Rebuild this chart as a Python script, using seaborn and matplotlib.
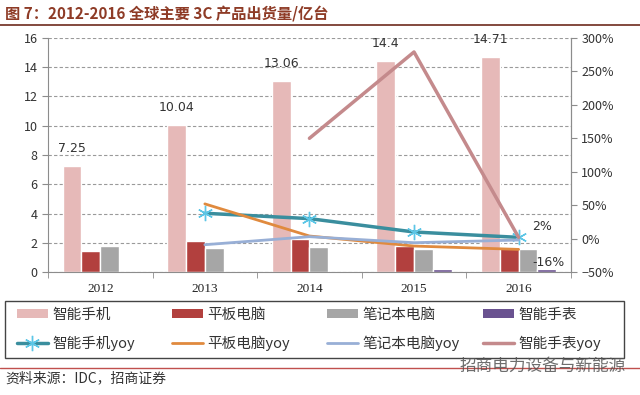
import numpy as np
import pandas as pd
import matplotlib
matplotlib.use("Agg")
import matplotlib.pyplot as plt
import seaborn as sns
from matplotlib.patches import Patch, Rectangle
from matplotlib.lines import Line2D
from matplotlib.ticker import PercentFormatter

sns.set_style("white")
plt.rcParams['font.family'] = ['Noto Sans CJK SC', 'DejaVu Sans']

# data
years = ["2012", "2013", "2014", "2015", "2016"]
smartphone = [7.25, 10.04, 13.06, 14.4, 14.71]
tablet = [1.44, 2.16, 2.25, 1.80, 1.72]
notebook = [1.82, 1.66, 1.72, 1.57, 1.57]
watch = [np.nan, np.nan, 0.03, 0.20, 0.21]

phone_yoy = [np.nan, 38, 30, 10, 2]
tablet_yoy = [np.nan, 52, 4, -11, -16]
notebook_yoy = [np.nan, -9, 3, -6, -2]
watch_yoy = [np.nan, np.nan, 150, 279, 2]

bar_names = ["智能手机", "平板电脑", "笔记本电脑", "智能手表"]
bar_colors = ["#E6B9B8", "#B2403E", "#A6A6A6", "#6A5290"]
line_names = ["智能手机yoy", "平板电脑yoy", "笔记本电脑yoy", "智能手表yoy"]
line_colors = ["#3A8E9E", "#E08A3E", "#98AFD6", "#C48A8C"]

df = pd.DataFrame({
    "year": years * 4,
    "product": [n for n in bar_names for _ in years],
    "value": smartphone + tablet + notebook + watch,
})

W, H = 640, 395
fig = plt.figure(figsize=(6.4, 3.95), dpi=100)
ax = fig.add_axes([0.075, 0.311, 0.817, 0.593])

sns.barplot(data=df, x="year", y="value", hue="product", hue_order=bar_names,
            palette=bar_colors, width=0.72, gap=0, ax=ax, legend=False,
            errorbar=None, saturation=1)

ax.set_ylim(0, 16)
ax.set_yticks(range(0, 17, 2))
ax.set_xlim(-0.5, 4.5)
ax.set_xlabel("")
ax.set_ylabel("")
ax.yaxis.grid(True, linestyle=(0, (3, 2)), color="#9a9a9a", linewidth=0.8)
ax.set_axisbelow(True)
ax.spines["top"].set_visible(False)
for s in ["left", "bottom", "right"]:
    ax.spines[s].set_color("#8c8c8c")
ax.tick_params(axis="y", length=4, color="#8c8c8c", labelsize=9, labelcolor="#333333", left=True)
ax.set_xticks(range(5))
ax.set_xticklabels(years, family="Liberation Serif", fontsize=9.5, color="#222222")
ax.set_xticks(np.arange(-0.5, 5, 1), minor=True)
ax.tick_params(axis="x", which="major", length=0, pad=8)
ax.tick_params(axis="x", which="minor", length=4, color="#8c8c8c", bottom=True)

# value labels above smartphone bars
for i, v in enumerate(smartphone):
    ax.text(i - 0.27, v + 0.75, f"{v:g}", ha="center", va="bottom",
            fontsize=9, color="#333333", family="DejaVu Sans")

ax2 = ax.twinx()
x = np.arange(5)
yoys = [phone_yoy, tablet_yoy, notebook_yoy, watch_yoy]
widths = [2.5, 2.0, 2.0, 2.5]
star = (6, 2, 0)
for vals, c, w, name in zip(yoys, line_colors, widths, line_names):
    m = star if name == "智能手机yoy" else None
    sns.lineplot(x=x, y=vals, color=c, linewidth=w, marker=m, markersize=11,
                 markeredgecolor="#5CC6E6", markeredgewidth=1.0, ax=ax2)
ax2.set_ylim(-50, 300)
ax2.set_yticks(range(-50, 301, 50))
ax2.yaxis.set_major_formatter(PercentFormatter(decimals=0))
ax2.tick_params(axis="y", length=4, color="#8c8c8c", labelsize=9, labelcolor="#333333", right=True)
for s in ["top", "left", "bottom"]:
    ax2.spines[s].set_visible(False)
ax2.spines["right"].set_color("#8c8c8c")
ax2.set_xlim(-0.5, 4.5)

ax2.text(4.13, phone_yoy[4] + 6, "2%", fontsize=9, color="#333333", va="bottom", family="DejaVu Sans")
ax2.text(4.13, tablet_yoy[4] - 29, "-16%", fontsize=9, color="#333333", va="bottom", family="DejaVu Sans")

# legend: one entry per slot on a 4x2 grid, boxed
bar_h = [Patch(facecolor=c, edgecolor="none") for c in bar_colors]
line_h = [Line2D([], [], color=c, linewidth=w, marker=(star if i == 0 else None),
                 markersize=11, markeredgecolor="#5CC6E6", markeredgewidth=1.0)
          for i, (c, w) in enumerate(zip(line_colors, widths))]
col_x = [17, 172, 327, 483]
row_y = [315, 343]
for i in range(4):
    for h, lab, ry in [(bar_h[i], bar_names[i], row_y[0]), (line_h[i], line_names[i], row_y[1])]:
        fig.legend([h], [lab], loc="center left",
                   bbox_to_anchor=(col_x[i] / W, 1 - ry / H),
                   frameon=False, fontsize=10.5, handlelength=2.1, handleheight=0.55,
                   borderpad=0, borderaxespad=0, handletextpad=0.35,
                   labelcolor="#333333")
fig.add_artist(Rectangle((5 / W, 1 - 358 / H), 619 / W, 57 / H, transform=fig.transFigure,
                         facecolor="none", edgecolor="#444444", linewidth=1.0))

# title and rules
fig.text(0.008, 0.965, "图 7：2012-2016 全球主要 3C 产品出货量/亿台", fontsize=11,
         fontweight="bold", color="#8E3B26", va="center")
fig.add_artist(Line2D([0, 1], [1 - 25 / H, 1 - 25 / H], color="#6E2A1E", linewidth=1.2))
fig.add_artist(Line2D([0, 1], [1 - 368 / H, 1 - 368 / H], color="#C0504D", linewidth=1.0))
fig.text(0.008, 1 - 378 / H, "资料来源：IDC，招商证券", fontsize=10, color="#333333", va="center")
fig.text(460 / W, 1 - 366 / H, "招商电力设备与新能源", fontsize=12, color="#555555",
         va="center", alpha=0.85)

fig.savefig("out.png", dpi=100)
